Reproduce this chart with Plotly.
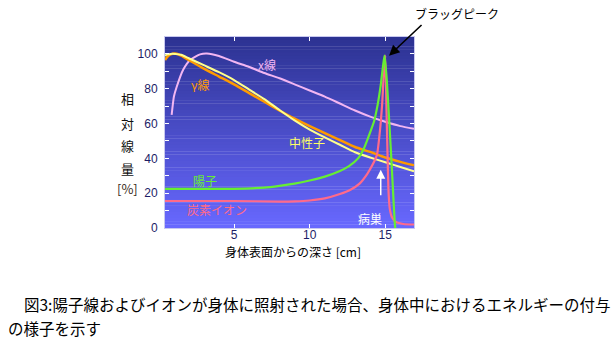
import plotly.graph_objects as go

# ---- data (depth in cm, relative dose in %) ----
xray_x = [0.87, 1.02, 1.2, 1.64, 2.09, 2.75, 3.2, 4, 5, 6, 7, 8, 9, 10, 11, 12, 13, 14, 15, 16, 16.9]
xray_y = [65, 75.5, 81, 91, 96.5, 99.7, 100.2, 98.8, 95.5, 92.5, 89, 86, 82.5, 79, 75.5, 71.5, 67.5, 64, 61, 58.5, 57]

gamma_x = [0.43, 0.6, 0.8, 1.1, 1.5, 2, 3, 4, 5, 6, 7, 8, 9, 10, 11, 12, 13, 14, 15, 16, 16.9]
gamma_y = [96.5, 98.5, 99.7, 100.2, 99, 96.5, 91.5, 87, 82.5, 77.5, 72.5, 67.5, 62.8, 58.5, 54.5, 50.5, 46.5, 43.7, 40.5, 38, 36]

neutron_x = [0.43, 0.6, 0.8, 1.1, 1.5, 2, 3, 4, 5, 6, 7, 8, 9, 10, 11, 12, 13, 14, 15, 16, 16.9]
neutron_y = [99, 99.7, 100, 100, 99.5, 97.5, 93.5, 89.5, 85, 79.5, 74, 67.8, 61.8, 56.5, 52, 47.8, 43.5, 40.5, 37.8, 35, 32.5]

proton_x = [0.43, 3, 5, 7, 8, 9, 10, 11, 12, 12.6, 13.2, 13.6, 14.0, 14.25, 14.5, 14.7, 14.85, 14.95,
            15.1, 15.25, 15.4, 15.52, 15.62, 15.66]
proton_y = [22.5, 22.5, 22.5, 23.2, 24.2, 25.5, 27.3, 29.5, 32.7, 35.5, 40, 46, 55, 61, 71, 82, 93, 99,
            85, 63, 40, 20, 4, 0]

carbon_x = [0.43, 5, 8, 9, 10, 11, 12, 12.7, 13.3, 13.8, 14.2, 14.45, 14.65, 14.8, 14.93, 15.0,
            15.08, 15.15, 15.22, 15.3, 15.45, 15.7, 16.2, 16.9]
carbon_y = [15.5, 15.5, 15.2, 15.3, 15.8, 17, 19.5, 22, 25.5, 31, 37, 42, 56, 72, 93, 99,
            68, 42, 20, 11, 6, 3.5, 2.3, 2]

x_ticks = [5, 10, 15]
y_ticks = [0, 20, 40, 60, 80, 100]

# ---- figure ----
W, H = 611, 344
L, R, T, B = 165, 414, 37, 228

fig = go.Figure()

def add(x, y, color, width):
    fig.add_trace(go.Scatter(x=x, y=y, mode="lines",
                             line=dict(color=color, width=width, shape="spline", smoothing=0.5),
                             hoverinfo="skip", showlegend=False))

add(xray_x, xray_y, "#f2b6f2", 2)
add(gamma_x, gamma_y, "#ff9a00", 2.5)
add(neutron_x, neutron_y, "#ffff8c", 2)
add(carbon_x, carbon_y, "#ff6a8a", 2.2)
add(proton_x, proton_y, "#66ee33", 2.2)

# gradient background
shapes = []
n = 60
top = (44, 50, 145)
bot = (104, 104, 255)
for i in range(n):
    t = (i + 0.5) / n
    c = tuple(int(round(top[k] + (bot[k] - top[k]) * t)) for k in range(3))
    shapes.append(dict(type="rect", xref="paper", yref="paper",
                       x0=0, x1=1, y0=1 - (i + 1) / n, y1=1 - i / n + 0.002,
                       fillcolor="rgb(%d,%d,%d)" % c, line=dict(width=0), layer="below"))

def px2paper_x(px):
    return (px - L) / (R - L)

def px2paper_y(py):
    return (B - py) / (B - T)

JP = "Noto Sans CJK JP"
ann = []
def label(text, x, y, color, size=12):
    ann.append(dict(text=text, x=x, y=y, xref="x", yref="y", showarrow=False,
                    xanchor="center", yanchor="middle",
                    font=dict(color=color, size=size, family=JP)))

label("x線", 7.2, 93.7, "#f2b6f2")
label("γ線", 2.75, 82.3, "#ff9a00")
label("中性子", 9.83, 49, "#ffff66")
label("陽子", 3.08, 27.4, "#66ee33")
label("炭素イオン", 3.87, 10.9, "#ff6a8a")
label("病巣", 14.0, 5.7, "#ffffff")

# white arrow to focus
ann.append(dict(x=14.7, y=33.5, xref="x", yref="y", ax=0, ay=27, text="", showarrow=True,
                arrowhead=2, arrowsize=1.2, arrowwidth=1.5, arrowcolor="#ffffff"))
# Bragg peak arrow
ann.append(dict(x=15.25, y=99, xref="x", yref="y", ax=34, ay=-32, text="", showarrow=True,
                arrowhead=2, arrowsize=1.3, arrowwidth=1.6, arrowcolor="#000000"))

def ptext(text, px, py, size=12, color="#000", anchor="center"):
    ann.append(dict(text=text, x=px2paper_x(px), y=px2paper_y(py), xref="paper", yref="paper",
                    xanchor=anchor, yanchor="middle", showarrow=False,
                    font=dict(color=color, size=size, family=JP)))

ptext("ブラッグピーク", 457, 13)

# y label stacked
for ch, py in [("相", 98), ("対", 123), ("線", 145), ("量", 168)]:
    ptext(ch, 127, py, size=13, color="#111")
ptext("[%]", 127, 188, size=13, color="#3a2a20")

# x title
ptext("身体表面からの深さ [cm]", 293, 252, size=12)

# caption
ptext("図3:陽子線およびイオンが身体に照射された場合、身体中におけるエネルギーの付与", 22, 304, size=15.5, anchor="left")
ptext("の様子を示す", 6, 328, size=15.5, anchor="left")

tickfont = dict(color="#1c1c66", size=12, family="Liberation Sans")
fig.update_layout(
    width=W, height=H,
    margin=dict(l=L, r=W - R, t=T, b=H - B),
    paper_bgcolor="white", plot_bgcolor="rgba(0,0,0,0)",
    shapes=shapes, annotations=ann,
    xaxis=dict(range=[0.43, 16.9], tickvals=x_ticks, ticktext=[str(v) for v in x_ticks],
               ticks="inside", ticklen=4, tickcolor="white", showgrid=False, zeroline=False,
               showline=True, linecolor="#c8c8f0", linewidth=1, mirror="ticks",
               tickfont=tickfont, ticklabelstandoff=-4),
    yaxis=dict(range=[0, 109.7], tickvals=y_ticks, ticktext=[str(v) for v in y_ticks],
               ticks="inside", ticklen=4, tickcolor="white", showgrid=False, zeroline=False,
               showline=True, linecolor="#c8c8f0", linewidth=1, mirror="ticks",
               tickfont=tickfont, ticklabelstandoff=4,
               minor=dict(dtick=10, ticks="inside", ticklen=4, tickcolor="white", showgrid=False)),
)

fig.write_html("out.html")
